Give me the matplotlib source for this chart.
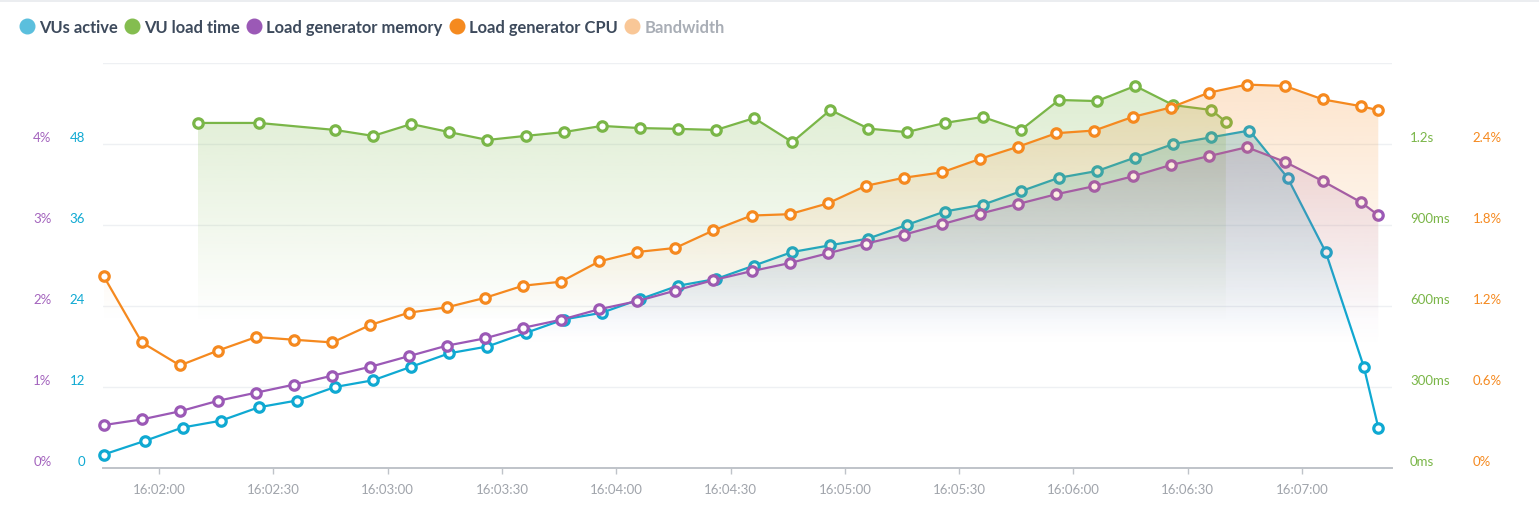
import numpy as np
import matplotlib
matplotlib.use("Agg")
import matplotlib.pyplot as plt
from matplotlib.lines import Line2D
from matplotlib.patches import Polygon
from matplotlib.colors import to_rgb
from matplotlib.ticker import FuncFormatter
from matplotlib.transforms import ScaledTranslation

plt.rcParams['font.family'] = ['Lato', 'DejaVu Sans']

# time in seconds after 16:00:00
t_vus = [105.5, 116.2, 126.2, 136.2, 146.2, 156.2, 166.2, 176.2, 186.2, 196.2,
         206.2, 216.2, 226.2, 236.2, 246.2, 256.2, 266.2, 276.2, 286.2, 296.2,
         306.2, 316.2, 326.2, 336.2, 346.2, 356.2, 366.2, 376.2, 386.2, 396.2,
         406.2, 416.2, 426.2, 436.2, 440]
vus_active = [2, 4, 6, 7, 9, 10, 12, 13, 15, 17,
              18, 20, 22, 23, 25, 27, 28, 30, 32, 33,
              34, 36, 38, 39, 41, 43, 44, 46, 48, 49,
              50, 43, 32, 15, 6]

t_load = [130.2, 146.2, 166.2, 176.2, 186.2, 196.2, 206.2, 216.2, 226.2, 236.2,
          246.2, 256.2, 266.2, 276.2, 286.2, 296.2, 306.2, 316.2, 326.2, 336.2,
          346.2, 356.2, 366.2, 376.2, 386.2, 396.2, 400]
load_time_ms = [1278, 1278, 1252, 1230, 1274, 1244, 1215, 1230, 1244, 1267,
                1259, 1256, 1252, 1296, 1207, 1326, 1257, 1244, 1278, 1300,
                1252, 1363, 1359, 1415, 1344, 1326, 1282]

t_gen = [105.5, 115.5, 125.5, 135.5, 145.5, 155.5, 165.5, 175.5, 185.5, 195.5,
         205.5, 215.5, 225.5, 235.5, 245.5, 255.5, 265.5, 275.5, 285.5, 295.5,
         305.5, 315.5, 325.5, 335.5, 345.5, 355.5, 365.5, 375.5, 385.5, 395.5,
         405.5, 415.5, 425.5, 435.5, 440]
mem_pct = [0.53, 0.60, 0.70, 0.83, 0.93, 1.03, 1.14, 1.25, 1.38, 1.51,
           1.60, 1.73, 1.83, 1.96, 2.06, 2.19, 2.32, 2.43, 2.53, 2.65,
           2.77, 2.88, 3.01, 3.14, 3.26, 3.38, 3.48, 3.60, 3.74, 3.85,
           3.96, 3.78, 3.54, 3.28, 3.12]
cpu_pct = [1.42, 0.93, 0.76, 0.87, 0.97, 0.95, 0.93, 1.06, 1.15, 1.19,
           1.26, 1.35, 1.38, 1.53, 1.60, 1.63, 1.76, 1.87, 1.88, 1.96,
           2.09, 2.15, 2.19, 2.29, 2.38, 2.48, 2.50, 2.60, 2.67, 2.78,
           2.84, 2.83, 2.73, 2.68, 2.65]

legend_names = ['VUs active', 'VU load time', 'Load generator memory',
                'Load generator CPU', 'Bandwidth']

c_vus = '#0fa9d2'
c_load = '#7ab648'
c_mem = '#9b59b6'
c_cpu = '#f5891f'

W, H = 1539, 506
fig = plt.figure(figsize=(W / 100, H / 100), dpi=100)
ax = fig.add_axes([103 / W, 37 / H, 1289 / W, 405 / H])
ax_mem = ax.twinx()
ax_load = ax.twinx()
ax_cpu = ax.twinx()

ax.set_xlim(105.3, 443.6)
ax.set_ylim(0, 60)
ax_mem.set_ylim(0, 5)
ax_load.set_ylim(0, 1500)
ax_cpu.set_ylim(0, 3)


def gradient_area(t, v, color, alpha_top, axis, z, stop=0.62):
    trans = axis.transData
    verts = np.column_stack([np.r_[t[0], t, t[-1]], np.r_[0, v, 0]])
    patch = Polygon(verts, closed=True, facecolor='none', edgecolor='none',
                    transform=trans)
    ax.add_patch(patch)
    n = 256
    frac = np.linspace(0, 1, n)
    img = np.zeros((n, 1, 4))
    img[:, 0, :3] = to_rgb(color)
    img[:, 0, 3] = alpha_top * np.clip(1 - frac / stop, 0, 1)
    im = ax.imshow(img, extent=[t[0], t[-1], 0, max(v)], aspect='auto',
                   origin='upper', transform=trans, zorder=z,
                   interpolation='bilinear')
    im.set_clip_path(patch)


def series_line(t, v, color, axis, z):
    ax.plot(t, v, color=color, lw=1.6, marker='o', ms=6.8, mfc='white',
            mec=color, mew=2.3, transform=axis.transData, zorder=z,
            clip_on=False, solid_joinstyle='round')


gradient_area(t_vus, vus_active, c_vus, 0.28, ax, 1)
series_line(t_vus, vus_active, c_vus, ax, 2)
gradient_area(t_load, load_time_ms, c_load, 0.25, ax_load, 3)
series_line(t_load, load_time_ms, c_load, ax_load, 4)
gradient_area(t_gen, mem_pct, c_mem, 0.18, ax_mem, 5)
series_line(t_gen, mem_pct, c_mem, ax_mem, 6)
gradient_area(t_gen, cpu_pct, c_cpu, 0.22, ax_cpu, 7)
series_line(t_gen, cpu_pct, c_cpu, ax_cpu, 8)

ax.set_xlim(105.3, 443.6)
ax.set_ylim(0, 60)

# grid
for g in [12, 24, 36, 48, 60]:
    ax.axhline(g, color='#eef0f3', lw=1.0, zorder=0)

for s in ['top', 'left', 'right']:
    ax.spines[s].set_visible(False)
ax.spines['bottom'].set_color('#bfc3c9')
ax.spines['bottom'].set_linewidth(1.4)
ax.spines['bottom'].set_zorder(9)
for a in [ax_mem, ax_load, ax_cpu]:
    for s in a.spines.values():
        s.set_visible(False)

# x axis
ax.set_xticks(np.arange(120, 421, 30))
ax.xaxis.set_major_formatter(FuncFormatter(
    lambda s, p: f"16:{int(s) // 60:02d}:{int(s) % 60:02d}"))
ax.tick_params(axis='x', length=4, width=1, color='#bfc3c9', pad=7,
               labelsize=9.5, labelcolor='#a0a4ab')

up = ScaledTranslation(0, 8 / 100, fig.dpi_scale_trans)

ax.set_yticks([0, 12, 24, 36, 48])
ax.tick_params(axis='y', length=0, pad=13, labelsize=9.5, labelcolor=c_vus)

ax_mem.yaxis.tick_left()
ax_mem.set_yticks([0, 1, 2, 3, 4])
ax_mem.set_yticklabels(['0%', '1%', '2%', '3%', '4%'])
ax_mem.tick_params(axis='y', length=0, pad=37, labelsize=9.5,
                   labelcolor='#a363bd')

ax_load.set_yticks([0, 300, 600, 900, 1200])
ax_load.set_yticklabels(['0ms', '300ms', '600ms', '900ms', '1.2s'])
ax_load.tick_params(axis='y', length=0, pad=13, labelsize=9.5,
                    labelcolor=c_load)

ax_cpu.set_yticks([0, 0.6, 1.2, 1.8, 2.4])
ax_cpu.set_yticklabels(['0%', '0.6%', '1.2%', '1.8%', '2.4%'])
ax_cpu.tick_params(axis='y', length=0, pad=58, labelsize=9.5,
                   labelcolor=c_cpu)

for a in [ax, ax_mem, ax_load, ax_cpu]:
    for lab in a.get_yticklabels():
        lab.set_transform(lab.get_transform() + up)

# legend
dot_colors = ['#5bbfdd', '#84bd4f', '#9b59b6', '#f58a1f', '#f9c797']
text_colors = ['#3d4a5c'] * 4 + ['#a9aeb6']
handles = [Line2D([], [], ls='none', marker='o', ms=10.5, mfc=c, mec=c)
           for c in dot_colors]
leg = fig.legend(handles, legend_names, loc='upper left',
                 bbox_to_anchor=(20 / W, 1 - 20 / H), ncol=5, frameon=False,
                 handlelength=0.8, handletextpad=0.35, columnspacing=0.45,
                 borderaxespad=0, borderpad=0,
                 prop=dict(size=11.9, weight='bold'))
for txt, c in zip(leg.get_texts(), text_colors):
    txt.set_color(c)

fig.add_artist(Line2D([0, 1], [1 - 1.5 / H, 1 - 1.5 / H], color='#e8eaee',
                      lw=1.2, transform=fig.transFigure))

fig.savefig('out.png', dpi=100)
